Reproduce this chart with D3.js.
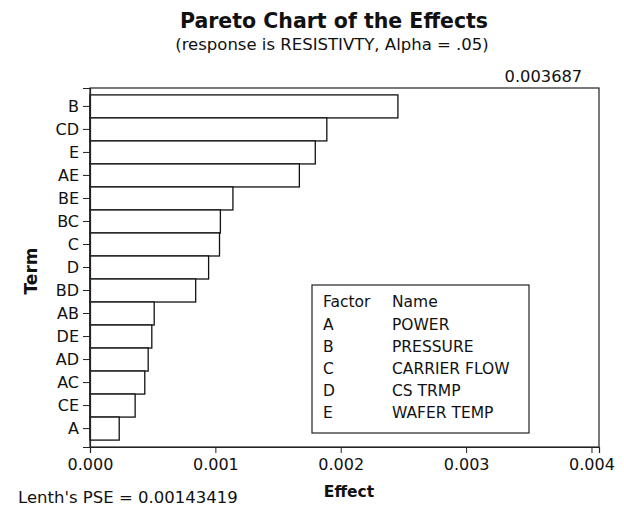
<!DOCTYPE html>
<html>
<head>
<meta charset="utf-8">
<script src="https://cdn.jsdelivr.net/npm/d3@7"></script>
<style>
  body { margin: 0; background: #fff; }
  text { font-family: "DejaVu Sans", sans-serif; fill: #111; }
</style>
</head>
<body>
<div></div>
<script>
var width = 624;
var height = 506;

// data
var terms = ["B", "CD", "E", "AE", "BE", "BC", "C", "D", "BD", "AB", "DE", "AD", "AC", "CE", "A"];
var effects = [0.002456, 0.001889, 0.001797, 0.001670, 0.001140, 0.001040, 0.001033, 0.000946, 0.000843, 0.000512, 0.000493, 0.000464, 0.000437, 0.000360, 0.000233];
var xTicks = [0, 0.001, 0.002, 0.003, 0.004];
var refValue = 0.003687;
var factorCodes = ["A", "B", "C", "D", "E"];
var factorNames = ["POWER", "PRESSURE", "CARRIER FLOW", "CS TRMP", "WAFER TEMP"];

var margin = {top: 88, right: 25, bottom: 59, left: 90};
var plotW = width - margin.left - margin.right;
var plotH = height - margin.top - margin.bottom;

var svg = d3.select("div")
	.append("svg")
	.attr("width", width)
	.attr("height", height);

var x = d3.scaleLinear().domain([0, 0.00406]).range([margin.left, margin.left + plotW]);
var y = d3.scaleBand().domain(terms).range([margin.top, margin.top + plotH]).paddingInner(0).paddingOuter(0.3);

// title
svg.append("text")
	.attr("x", 334).attr("y", 28)
	.attr("text-anchor", "middle")
	.attr("font-size", 20.5).attr("font-weight", "bold")
	.text("Pareto Chart of the Effects");

svg.append("text")
	.attr("x", 332).attr("y", 50)
	.attr("text-anchor", "middle")
	.attr("font-size", 16.5)
	.text("(response is RESISTIVTY, Alpha = .05)");

// plot frame
svg.append("rect")
	.attr("x", margin.left).attr("y", margin.top)
	.attr("width", plotW).attr("height", plotH)
	.attr("fill", "none").attr("stroke", "#222").attr("stroke-width", 1.2);

// bars
svg.append("g")
	.selectAll("rect")
	.data(terms)
	.enter()
	.append("rect")
	.attr("x", x(0))
	.attr("y", t => y(t))
	.attr("width", (t, i) => x(effects[i]) - x(0))
	.attr("height", y.bandwidth())
	.attr("fill", "#fff")
	.attr("stroke", "#111")
	.attr("stroke-width", 1.3);

// axes
var xAxis = svg.append("g")
	.attr("transform", "translate(0," + (margin.top + plotH) + ")")
	.call(d3.axisBottom(x).tickValues(xTicks).tickFormat(d3.format(".3f")).tickSize(6).tickPadding(6));

var yAxis = svg.append("g")
	.attr("transform", "translate(" + margin.left + ",0)")
	.call(d3.axisLeft(y).tickSize(7).tickPadding(4));

[xAxis, yAxis].forEach(ax => {
	ax.select(".domain").attr("stroke", "#222").attr("stroke-width", 1.2);
	ax.selectAll(".tick line").attr("stroke", "#222");
	ax.selectAll(".tick text").attr("font-size", 16).attr("font-family", "DejaVu Sans").attr("fill", "#111");
});

// critical value label
svg.append("text")
	.attr("x", x(refValue) + 30).attr("y", 82)
	.attr("text-anchor", "end")
	.attr("font-size", 16.3)
	.text(refValue.toFixed(6));

// axis titles
svg.append("text")
	.attr("x", 349).attr("y", 497)
	.attr("text-anchor", "middle")
	.attr("font-size", 15.5).attr("font-weight", "bold")
	.text("Effect");

svg.append("text")
	.attr("transform", "translate(37,271) rotate(-90)")
	.attr("text-anchor", "middle")
	.attr("font-size", 17).attr("font-weight", "bold")
	.text("Term");

svg.append("text")
	.attr("x", 18).attr("y", 503)
	.attr("font-size", 16.5)
	.text("Lenth's PSE = 0.00143419");

// factor legend
var legend = svg.append("g");
legend.append("rect")
	.attr("x", 312).attr("y", 285)
	.attr("width", 217).attr("height", 148)
	.attr("fill", "#fff").attr("stroke", "#222").attr("stroke-width", 1.2);

var rows = [["Factor", "Name"]].concat(factorCodes.map((c, i) => [c, factorNames[i]]));
rows.forEach((r, i) => {
	legend.append("text")
		.attr("x", 323).attr("y", 302 + i * 22.2)
		.attr("dy", "0.35em")
		.attr("font-size", 15.5)
		.text(r[0]);
	legend.append("text")
		.attr("x", 392).attr("y", 302 + i * 22.2)
		.attr("dy", "0.35em")
		.attr("font-size", 15.5)
		.text(r[1]);
});
</script>
</body>
</html>
